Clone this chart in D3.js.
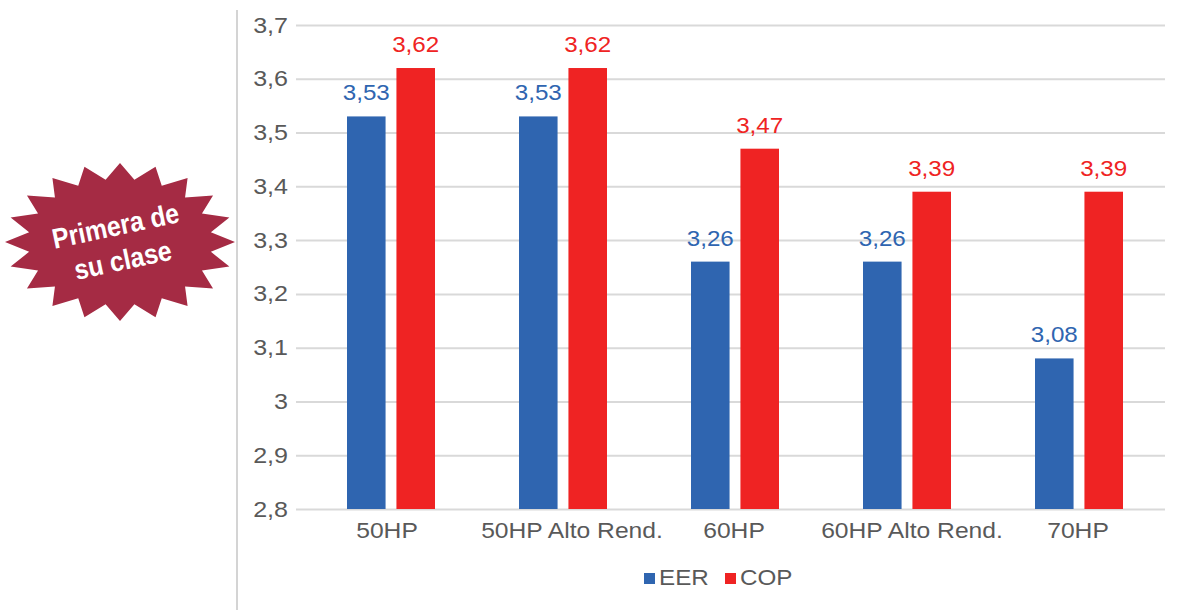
<!DOCTYPE html>
<html>
<head>
<meta charset="utf-8">
<script src="https://cdn.jsdelivr.net/npm/d3@7"></script>
<style>
  html, body { margin: 0; padding: 0; background: #fff; }
  svg { display: block; }
  text { font-family: "Liberation Sans", Arial, sans-serif; }
</style>
</head>
<body>
<script>
const categories = ["50HP", "50HP Alto Rend.", "60HP", "60HP Alto Rend.", "70HP"];
const seriesNames = ["EER", "COP"];
const eerValues = [3.53, 3.53, 3.26, 3.26, 3.08];
const copValues = [3.62, 3.62, 3.47, 3.39, 3.39];
const yTicks = [2.8, 2.9, 3, 3.1, 3.2, 3.3, 3.4, 3.5, 3.6, 3.7];

const svgWidth = 1185;
const svgHeight = 610;
const colors = { EER: "#2f65b0", COP: "#ef2323" };
const gridColor = "#d9d9d9";
const textColor = "#595959";

const svg = d3.select("body")
    .append("svg")
    .attr("width", svgWidth)
    .attr("height", svgHeight);

// the reference text is a bit wider than the font, so widen it
function widen(selection, factor) {
    selection.each(function() {
        d3.select(this)
            .attr("lengthAdjust", "spacingAndGlyphs")
            .attr("textLength", this.getComputedTextLength() * factor);
    });
}

// vertical rule left of the chart
svg.append("line")
    .attr("x1", 237).attr("x2", 237)
    .attr("y1", 10).attr("y2", svgHeight)
    .attr("stroke", "#d4d4d4")
    .attr("stroke-width", 2);

const xScale = d3.scaleBand()
    .domain(categories)
    .range([304, 1164]);

const seriesScale = d3.scaleBand()
    .domain(seriesNames)
    .range([43, 131])
    .paddingInner(0.22);

const yScale = d3.scaleLinear()
    .domain([2.8, 3.7])
    .range([509, 25]);

const comma = v => String(v).replace(".", ",");

// gridlines and y labels
const yAxis = svg.append("g")
    .attr("transform", "translate(296, 0)")
    .call(d3.axisLeft(yScale).tickValues(yTicks).tickFormat(comma).tickSize(-869).tickPadding(8));
yAxis.select(".domain").remove();
yAxis.selectAll("line").attr("stroke", gridColor).attr("stroke-width", 2);
yAxis.selectAll("text")
    .attr("fill", textColor)
    .style("font-size", "22px")
    .call(widen, 1.14);

// bars
const rows = categories.map((c, i) => ({ category: c, EER: eerValues[i], COP: copValues[i] }));
const groups = svg.selectAll("g.group")
    .data(rows)
    .enter()
    .append("g")
    .attr("class", "group")
    .attr("transform", d => `translate(${xScale(d.category)}, 0)`);

seriesNames.forEach(name => {
    groups.append("rect")
        .attr("x", seriesScale(name))
        .attr("y", d => yScale(d[name]))
        .attr("width", seriesScale.bandwidth())
        .attr("height", d => yScale(2.8) - yScale(d[name]))
        .attr("fill", colors[name]);

    groups.append("text")
        .attr("x", seriesScale(name) + seriesScale.bandwidth() / 2)
        .attr("y", d => yScale(d[name]) - 16)
        .attr("text-anchor", "middle")
        .attr("fill", colors[name])
        .style("font-size", "22px")
        .text(d => comma(d[name].toFixed(2)))
        .call(widen, 1.1);
});

// category labels, nudged to where the picture has them
const labelShift = [-3, 10, 0, 6, 0];
const xAxis = svg.append("g")
    .attr("transform", "translate(0, 509)")
    .call(d3.axisBottom(xScale).tickSize(0).tickPadding(13));
xAxis.select(".domain").remove();
xAxis.selectAll("text")
    .attr("dx", (d, i) => labelShift[i])
    .attr("fill", textColor)
    .style("font-size", "22px")
    .call(widen, 1.12);

// legend
const legendX = { EER: 644, COP: 725 };
const legend = svg.selectAll("g.legend")
    .data(seriesNames)
    .enter()
    .append("g")
    .attr("class", "legend")
    .attr("transform", d => `translate(${legendX[d]}, 573)`);
legend.append("rect")
    .attr("width", 11)
    .attr("height", 11)
    .attr("fill", d => colors[d]);
legend.append("text")
    .attr("x", 15)
    .attr("y", 12)
    .attr("fill", textColor)
    .style("font-size", "22px")
    .text(d => d)
    .call(widen, 1.1);

// starburst badge
const tips = 20;
const starPoints = d3.range(tips * 2).map(i => {
    const a = i * Math.PI / tips;
    const rx = i % 2 ? 92 : 115;
    const ry = i % 2 ? 63 : 79;
    return [rx * Math.cos(a), ry * Math.sin(a)];
});
const badge = svg.append("g").attr("transform", "translate(120, 242)");
badge.append("polygon")
    .attr("points", starPoints.map(p => p.join(",")).join(" "))
    .attr("fill", "#a52b44");
const badgeText = badge.append("g").attr("transform", "rotate(-12)");
badgeText.selectAll("text")
    .data(["Primera de", "su clase"])
    .enter()
    .append("text")
    .attr("x", -1)
    .attr("y", (d, i) => i * 35 - 7)
    .attr("text-anchor", "middle")
    .attr("fill", "#fff")
    .attr("textLength", (d, i) => i ? 99 : 129)
    .attr("lengthAdjust", "spacingAndGlyphs")
    .style("font-size", "28px")
    .style("font-weight", "bold")
    .text(d => d);
</script>
</body>
</html>
